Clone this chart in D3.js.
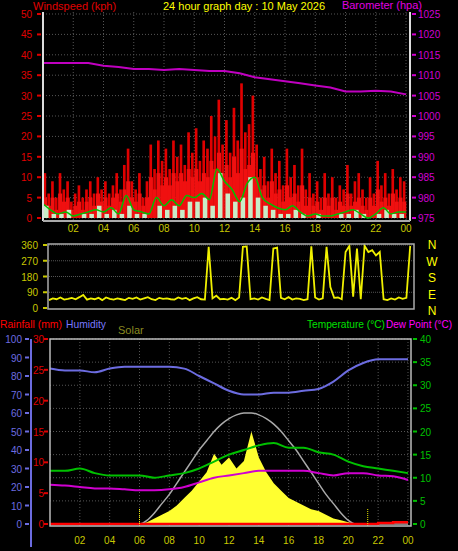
<!DOCTYPE html>
<html><head><meta charset="utf-8">
<script src="https://cdn.jsdelivr.net/npm/d3@7"></script>
<style>body{margin:0;background:#000}svg{display:block}text{font-family:"Liberation Sans",Arial,sans-serif}</style>
</head><body><svg id="c" width="458" height="551"></svg>
<script>
const hourLabels=["02","04","06","08","10","12","14","16","18","20","22","00"];
const gust=[11,6,9,5,11,7,9,4, 6,8,5,7,9,6,10,7, 9,6,8,11,7,13,17,9, 7,11,5,9,18,12,19,14,
 17,12,19,15,18,13,21,16, 22,14,19,17,25,20,29,18, 24,16,27,19,33,21,23,30, 18,12,15,9,17,11,14,8,
 17,10,13,8,17,7,11,6, 9,5,11,6,10,5,8,7, 13,6,9,11,7,5,10,6, 14,8,11,6,12,7,10,9];
const gustLow=[5,3,5,2,6,4,5,2, 3,4,2,4,5,3,6,4, 5,3,5,6,4,7,9,5, 4,6,3,5,10,7,11,8,
 10,8,11,9,11,9,12,10, 12,9,11,10,14,12,16,11, 13,10,15,11,17,12,13,16, 10,7,8,5,9,6,7,4,
 8,5,6,4,8,3,5,3, 4,2,5,3,5,2,4,3, 6,3,4,5,3,2,5,3, 7,4,5,3,6,4,5,4];
const avgSpeed=[3.5,2,1,1.5, 0.5,1,1.5,2, 1.5,2.5,1,5.5, 2,1.5,1,5, 3,4.5,3,5.5, 5,6,4.5,12,
 9,7,4,8.5, 10,5,3.5,2.5, 2,3,1.5,0.5, 1,0.5,0.5,1, 1.5,2,1,0, 1,2.5,1,1.5,1.5];
const calm=[3,1,1,2,0,1,1,3,1,2,1,3,1,1,0,3,2,3,2,4,4,5,3,11,6,4,5,10,5,3,2,1,1,2,1,0,1,0,0,1,1,2,1,0,1,2,1,1];
const baro=[1013,1013,1013,1013,1012.3,1012,1011.5,1011.5,1011.3,1011.5,1011.3,1011,1011,1010.5,1009.5,1009,1008.5,1008,1007.5,1007,1006,1006,1006.2,1006,1005.3];
const windDir=[45,55,50,60,48,52,58,50,62,75,48,55,50,58,45,60,52,48,55,50,45,58,52,60,48,55,62,50,45,58,52,55,50,48,60,52,58,45,55,62,
 50,48,350,55,70,50,52,48,58,45,60,350,352,50,55,48,60,52,45,340,345,58,50,62,48,55,52,45,50,352,60,48,55,350,120,58,60,50,320,355,
 65,340,50,355,320,330,300,320,50,45,55,48,60,52,58,355];
const humidity=[84,83,83,82,84,85,85,85,85,84,80,76,72,70,70,71,71,72,73,77,83,87,89,89,89];
const temperature=[11.5,11.5,12,11,10.5,10.5,10.5,10,10.5,11,12,13.5,15,16,17,17.5,16.5,16.5,15.5,15,13.5,12.5,12,11.5,11];
const dewPoint=[8.5,8.3,8,7.7,7.7,7.5,7.3,7.3,7.5,8,9,10,10.5,11,11.5,11.5,11.5,11.5,11,10.5,11,11,10.5,10.3,9.5];
const solar=[0,0,0,0,0,0,0,0,0,0,0,0,0,1,3,5,7,10,14,18,23,28,38,32,36,30,34,50,36,28,22,18,14,12,10,8,7,5,3,2,1,0,0,0,0,0,0,0,0];
const solarMax=[0,0,0,0,0,0,0,0,0,0,0,0,0,2,6,11,16,22,28,34,40,45,50,54,57,59,60,60,59,57,54,50,45,40,34,28,22,16,11,6,2,0,0,0,0,0,0,0,0];
const rain=[0,0,0,0,0,0,0,0,0,0,0,0,0,0,0,0,0,0,0,0,0,0,0.15,0.3,0.3];

const svg=d3.select("#c");
const grid="#555";
function txt(x,y,s,c,a,fs,len){const t=svg.append("text").attr("x",x).attr("y",y).attr("fill",c).attr("text-anchor",a||"start").attr("font-size",fs||11).text(s);
  if(len)t.attr("textLength",len).attr("lengthAdjust","spacingAndGlyphs");}
function yaxis(scale,x,vals,color,side,lblX){
  const g=svg.append("g");
  vals.forEach(v=>{const y=scale(v);
    g.append("line").attr("x1",x).attr("x2",x+(side<0?-4:4)).attr("y1",y).attr("y2",y).attr("stroke",color).attr("stroke-width",2);
    g.append("text").attr("x",lblX).attr("y",y+4).attr("fill",color).attr("font-size",10).attr("text-anchor",side<0?"end":"start").text(v);});
}
const hrs=d3.range(2,25,2);
const xT=d3.scaleLinear([0,24],[43,406]);
const yW=d3.scaleLinear([0,50],[218,14]);
const yB=d3.scaleLinear([975,1025],[218,14]);
d3.range(0,51,5).forEach(v=>svg.append("line").attr("x1",43).attr("x2",410).attr("y1",yW(v)).attr("y2",yW(v)).attr("stroke",grid).attr("stroke-dasharray","1,2"));
hrs.forEach(h=>svg.append("line").attr("x1",xT(h)).attr("x2",xT(h)).attr("y1",12).attr("y2",220).attr("stroke",grid).attr("stroke-dasharray","1,2"));
const bw=(xT(24)-xT(0))/gust.length;
svg.append("g").selectAll("rect").data(gust).join("rect").attr("x",(d,i)=>xT(i*0.25)+bw*0.15).attr("width",bw*0.7)
 .attr("y",d=>yW(d)).attr("height",d=>yW(0)-yW(d)).attr("fill","#e00000");
svg.append("g").selectAll("rect").data(gustLow).join("rect").attr("x",(d,i)=>xT(i*0.25)).attr("width",bw+0.3)
 .attr("y",d=>yW(d)).attr("height",d=>yW(0)-yW(d)).attr("fill","#f01010");
svg.append("g").selectAll("rect").data(calm).join("rect").attr("x",(d,i)=>xT(i*0.5)+1).attr("width",bw*1.2)
 .attr("y",d=>yW(d)).attr("height",d=>yW(0)-yW(d)).attr("fill","#c8ecc8");
svg.append("path").datum(avgSpeed).attr("d",d3.line().x((d,i)=>xT(i*0.5)).y(d=>yW(d)).curve(d3.curveMonotoneX))
 .attr("fill","none").attr("stroke","#00c000").attr("stroke-width",1.5);
svg.append("path").datum(baro).attr("d",d3.line().x((d,i)=>xT(i)).y(d=>yB(d)))
 .attr("fill","none").attr("stroke","#c000c0").attr("stroke-width",2);
svg.append("line").attr("x1",43).attr("x2",43).attr("y1",12).attr("y2",221).attr("stroke","#ddd").attr("stroke-width",2);
svg.append("line").attr("x1",410).attr("x2",410).attr("y1",12).attr("y2",221).attr("stroke","#ddd").attr("stroke-width",2);
svg.append("line").attr("x1",43).attr("x2",410).attr("y1",221).attr("y2",221).attr("stroke","#aaa").attr("stroke-width",2);
yaxis(yW,41,d3.range(0,51,5),"#e00000",-1,32);
yaxis(yB,412,d3.range(975,1026,5),"#d000d0",1,418);
hrs.forEach((h,i)=>txt(xT(h),232,hourLabels[i],"#c8c800","middle",10));
txt(33,10,"Windspeed (kph)","#e00000","start",11);
txt(244,10,"24 hour graph day : 10 May 2026","#ffff00","middle",11);
txt(422,9,"Barometer (hpa)","#e000e0","end",11);
const xM=d3.scaleLinear([0,24],[49,414]);
const yD=d3.scaleLinear([0,360],[308,245]);
[90,180,270,360].forEach(v=>svg.append("line").attr("x1",49).attr("x2",414).attr("y1",yD(v)).attr("y2",yD(v)).attr("stroke",grid).attr("stroke-dasharray","1,1"));
svg.append("path").datum(windDir).attr("d",d3.line().x((d,i)=>xM(i*0.25)).y(d=>yD(d)))
 .attr("fill","none").attr("stroke","#f0f000").attr("stroke-width",1.8);
svg.append("rect").attr("x",48).attr("y",244).attr("width",366).attr("height",65).attr("fill","none").attr("stroke","#aaa").attr("stroke-width",1.5);
yaxis(yD,47,[0,90,180,270,360],"#c8c800",-1,38);
["N","W","S","E","N"].forEach((s,i)=>txt(432,249+i*16.5,s,"#ffff00","middle",12));
const xB=d3.scaleLinear([0,24],[50,408]);
const yH=d3.scaleLinear([0,100],[524,339]);
const yR=d3.scaleLinear([0,30],[524,339]);
const yT=d3.scaleLinear([0,40],[524,339]);
d3.range(5,41,5).forEach(v=>svg.append("line").attr("x1",50).attr("x2",411).attr("y1",yT(v)).attr("y2",yT(v)).attr("stroke",grid).attr("stroke-dasharray","1,2"));
hrs.forEach(h=>svg.append("line").attr("x1",xB(h)).attr("x2",xB(h)).attr("y1",339).attr("y2",526).attr("stroke",grid).attr("stroke-dasharray","1,2"));
svg.append("path").datum(solar).attr("d",d3.area().x((d,i)=>xB(i*0.5)).y0(yH(0)).y1(d=>yH(d)))
 .attr("fill","#ffff30");
svg.append("path").datum(solarMax).attr("d",d3.line().x((d,i)=>xB(i*0.5)).y(d=>yH(d)).curve(d3.curveMonotoneX))
 .attr("fill","none").attr("stroke","#aaa").attr("stroke-width",1.5);
svg.append("path").datum(humidity).attr("d",d3.line().x((d,i)=>xB(i)).y(d=>yH(d)).curve(d3.curveMonotoneX))
 .attr("fill","none").attr("stroke","#6c6ce0").attr("stroke-width",2);
svg.append("path").datum(temperature).attr("d",d3.line().x((d,i)=>xB(i)).y(d=>yT(d)).curve(d3.curveMonotoneX))
 .attr("fill","none").attr("stroke","#00c000").attr("stroke-width",2);
svg.append("path").datum(dewPoint).attr("d",d3.line().x((d,i)=>xB(i)).y(d=>yT(d)).curve(d3.curveMonotoneX))
 .attr("fill","none").attr("stroke","#d000d0").attr("stroke-width",2);
svg.append("path").datum(rain).attr("d",d3.line().x((d,i)=>xB(i)).y(d=>yR(d)).curve(d3.curveStepAfter))
 .attr("fill","none").attr("stroke","#ff0000").attr("stroke-width",2.5);
[6,21.3].forEach(h=>svg.append("line").attr("x1",xB(h)).attr("x2",xB(h)).attr("y1",509).attr("y2",526).attr("stroke","#e8e800").attr("stroke-dasharray","1,1"));
svg.append("rect").attr("x",50).attr("y",339).attr("width",361).attr("height",187).attr("fill","none").attr("stroke","#bbb").attr("stroke-width",1.5);
svg.append("line").attr("x1",31).attr("x2",31).attr("y1",339).attr("y2",547).attr("stroke","#6c6ce0").attr("stroke-width",2);
yaxis(yH,29,d3.range(0,101,10),"#6c6ce0",-1,22);
yaxis(yR,48,d3.range(0,31,5),"#e00000",-1,44);
yaxis(yT,413,d3.range(0,41,5),"#00c000",1,420);
hrs.forEach((h,i)=>txt(xB(h),544,hourLabels[i],"#c8c800","middle",10));
txt(0,328,"Rainfall (mm)","#ff0000","start",11,62);
txt(66,328,"Humidity","#7878ff","start",11,40);
txt(118,334,"Solar","#8a8a20","start",11);
txt(307,328,"Temperature (°C)","#00e000","start",11,78);
txt(386,328,"Dew Point (°C)","#ff00ff","start",11,66);
</script></body></html>
